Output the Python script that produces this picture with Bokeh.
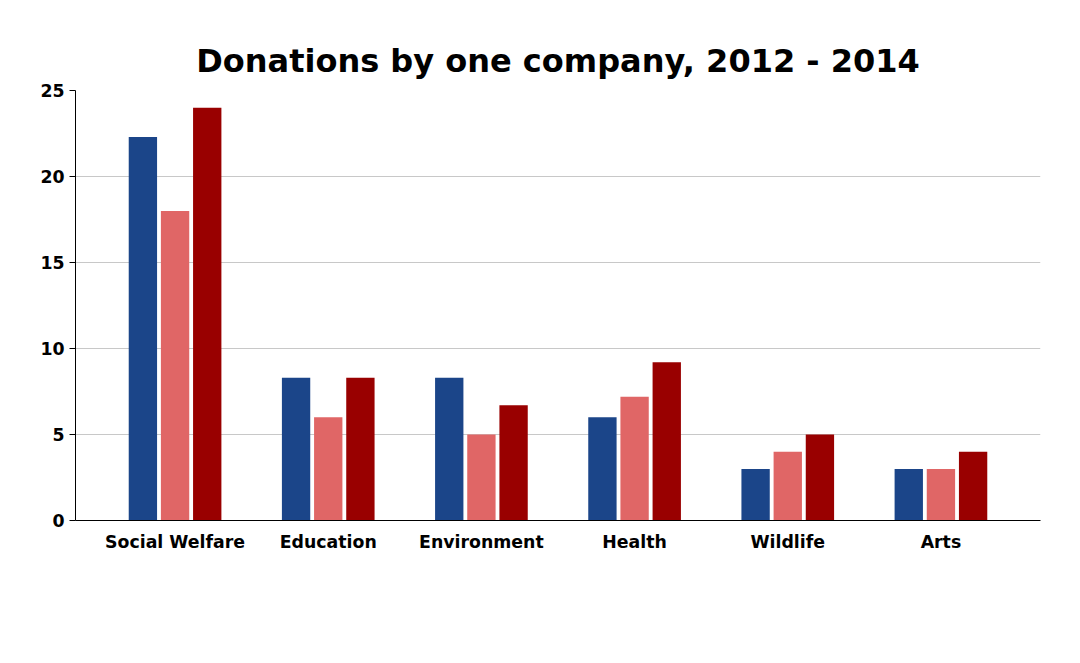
from bokeh.plotting import figure
from bokeh.models import ColumnDataSource, Legend, LegendItem, FactorRange
from bokeh.transform import dodge
from bokeh.embed import file_html
from bokeh.resources import INLINE

categories = ["Social Welfare", "Education", "Environment", "Health", "Wildlife", "Arts"]
y2012 = [22.3, 8.3, 8.3, 6.0, 3.0, 3.0]
y2013 = [18.0, 6.0, 5.0, 7.2, 4.0, 3.0]
y2014 = [24.0, 8.3, 6.7, 9.2, 5.0, 4.0]
years = ["2012", "2013", "2014"]
colors = ["#1b4589", "#e06666", "#990000"]

src = ColumnDataSource(dict(cat=categories, a=y2012, b=y2013, c=y2014))
p = figure(x_range=FactorRange(*categories), y_range=(0, 25), width=1064, height=640,
           output_backend="svg", toolbar_location=None,
           min_border_left=75, min_border_right=24, min_border_top=90, min_border_bottom=120)
p.title.text = "Donations by one company, 2012 - 2014"
p.title.align = "center"
p.title.text_font = "DejaVu Sans"
p.title.text_font_size = "24pt"
p.title.text_font_style = "bold"
p.title.text_color = "black"
p.title.offset = 0
p.title.standoff = 22

rs = []
for k, off, col in zip(["a", "b", "c"], [-0.21, 0, 0.21], colors):
    rs.append(p.vbar(x=dodge("cat", off, range=p.x_range), top=k, width=0.185, source=src,
                     fill_color=col, line_color=None))

p.outline_line_color = None
p.xgrid.grid_line_color = None
p.ygrid.grid_line_color = "#c8c8c8"
p.yaxis.ticker = [0, 5, 10, 15, 20, 25]
p.yaxis.minor_tick_line_color = None
p.yaxis.major_tick_out = 6
p.yaxis.major_tick_in = 0
p.yaxis.axis_line_color = "black"
p.xaxis.axis_line_color = "black"
p.xaxis.major_tick_line_color = None
for ax in (p.xaxis, p.yaxis):
    ax.major_label_text_font = "DejaVu Sans"
    ax.major_label_text_font_size = "13pt"
    ax.major_label_text_font_style = "bold"
    ax.major_label_text_color = "black"
p.x_range.range_padding = 0.05

legend = Legend(items=[LegendItem(label=y, renderers=[r]) for y, r in zip(years, rs)],
                orientation="horizontal", location=(290, -78), border_line_color=None,
                background_fill_alpha=0,
                label_text_font="DejaVu Sans", label_text_font_size="13pt",
                label_text_font_style="bold", label_text_color="black",
                glyph_width=22, glyph_height=22, spacing=30, margin=0)
p.add_layout(legend)

open("out.html", "w").write(file_html(p, INLINE))
